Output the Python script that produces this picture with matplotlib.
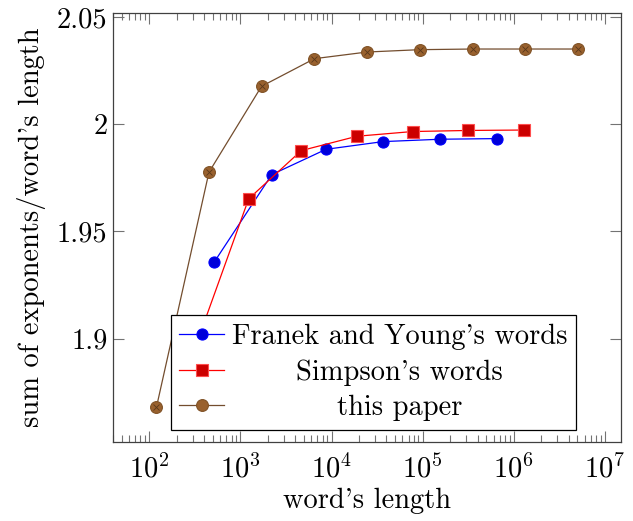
import matplotlib
matplotlib.use("Agg")
import matplotlib.pyplot as plt
from matplotlib.ticker import FixedLocator, FuncFormatter, LogLocator
from matplotlib.offsetbox import VPacker, DrawingArea

plt.rcParams['font.family'] = ['cmr10', 'DejaVu Serif']
plt.rcParams['mathtext.fontset'] = 'cm'
plt.rcParams['axes.formatter.use_mathtext'] = True

# data
franek_x = [513, 2210, 8700, 36800, 155600, 658000]
franek_y = [1.9355, 1.9765, 1.9883, 1.9919, 1.9930, 1.9933]

simpson_x = [302, 1233, 4660, 19050, 77800, 318000, 1300000]
simpson_y = [1.893, 1.9652, 1.9877, 1.9944, 1.9966, 1.9971, 1.9973]

paper_x = [120, 452, 1706, 6500, 24500, 93000, 355000, 1340000, 5100000]
paper_y = [1.868, 1.9776, 2.0177, 2.0306, 2.0337, 2.0348, 2.0351, 2.0351, 2.0351]

labels = ["Franek and Young's words", "Simpson's words", "this paper"]
y_ticks = [1.9, 1.95, 2.0, 2.05]

fs = 20.5

fig = plt.figure(figsize=(6.33, 5.21), dpi=100)
ax = fig.add_axes([0.1785, 0.1516, 0.8025, 0.8234])

ms = 8
h1, = ax.plot(franek_x, franek_y, color='blue', lw=0.9, marker='o', ms=ms,
              mfc=(0, 0, 0.85), mec='blue', mew=0.8)
h2, = ax.plot(simpson_x, simpson_y, color='red', lw=0.9, marker='s', ms=ms,
              mfc=(0.8, 0, 0), mec=(1, 0.3, 0.3), mew=0.8)
brown_line = (0.45, 0.3, 0.18)
brown_face = (0.6, 0.38, 0.18)
h3, = ax.plot(paper_x, paper_y, color=brown_line, lw=0.9, marker='o', ms=ms + 0.5,
              mfc=brown_face, mec=(0.5, 0.32, 0.15), mew=0.8)
# the x inside the brown circles
ax.plot(paper_x, paper_y, ls='none', marker='x', ms=5, mec=(0.35, 0.22, 0.1), mew=0.6)

ax.set_xscale('log')
ax.set_xlim(40, 1.5e7)
ax.set_ylim(1.8517, 2.0519)

ax.yaxis.set_major_locator(FixedLocator(y_ticks))
ax.yaxis.set_major_formatter(FuncFormatter(lambda v, p: '%g' % v))
ax.xaxis.set_major_locator(LogLocator(base=10, numticks=20))
ax.xaxis.set_minor_locator(LogLocator(base=10, subs=range(2, 10), numticks=20))

ax.tick_params(which='both', direction='in', top=True, right=True, color='0.45',
               labelsize=fs, width=0.8)
ax.tick_params(which='major', length=8)
ax.tick_params(axis='x', which='major', pad=9)
ax.tick_params(axis='y', which='major', pad=4)
ax.tick_params(which='minor', length=5)
ax.tick_params(axis='y', which='minor', left=False, right=False)
for s in ax.spines.values():
    s.set_linewidth(0.9)
    s.set_color('0.25')

ax.set_xlabel("word's length", fontsize=fs, labelpad=3)
ax.set_ylabel("sum of exponents/word's length", fontsize=fs, labelpad=8)

leg = ax.legend([h1, h2, h3], labels, loc='lower left',
                bbox_to_anchor=(0.114, 0.028), fontsize=fs, frameon=True,
                fancybox=False, edgecolor='black', framealpha=1,
                borderpad=0.3, labelspacing=0.33, handlelength=1.55,
                handletextpad=0.3, borderaxespad=0)
leg.get_frame().set_linewidth(0.9)

# centre the labels inside the legend like pgfplots does
fig.canvas.draw()
r = fig.canvas.get_renderer()
widths = [t.get_window_extent(r).width for t in leg.get_texts()]
wmax = max(widths) * 72.0 / fig.dpi
for row in leg._legend_handle_box.get_children()[0].get_children():
    kids = row.get_children()
    ta = kids[1]
    kids[1] = VPacker(children=[ta, DrawingArea(wmax, 0)], align='center', pad=0, sep=0)

fig.savefig('out.png', dpi=100)
